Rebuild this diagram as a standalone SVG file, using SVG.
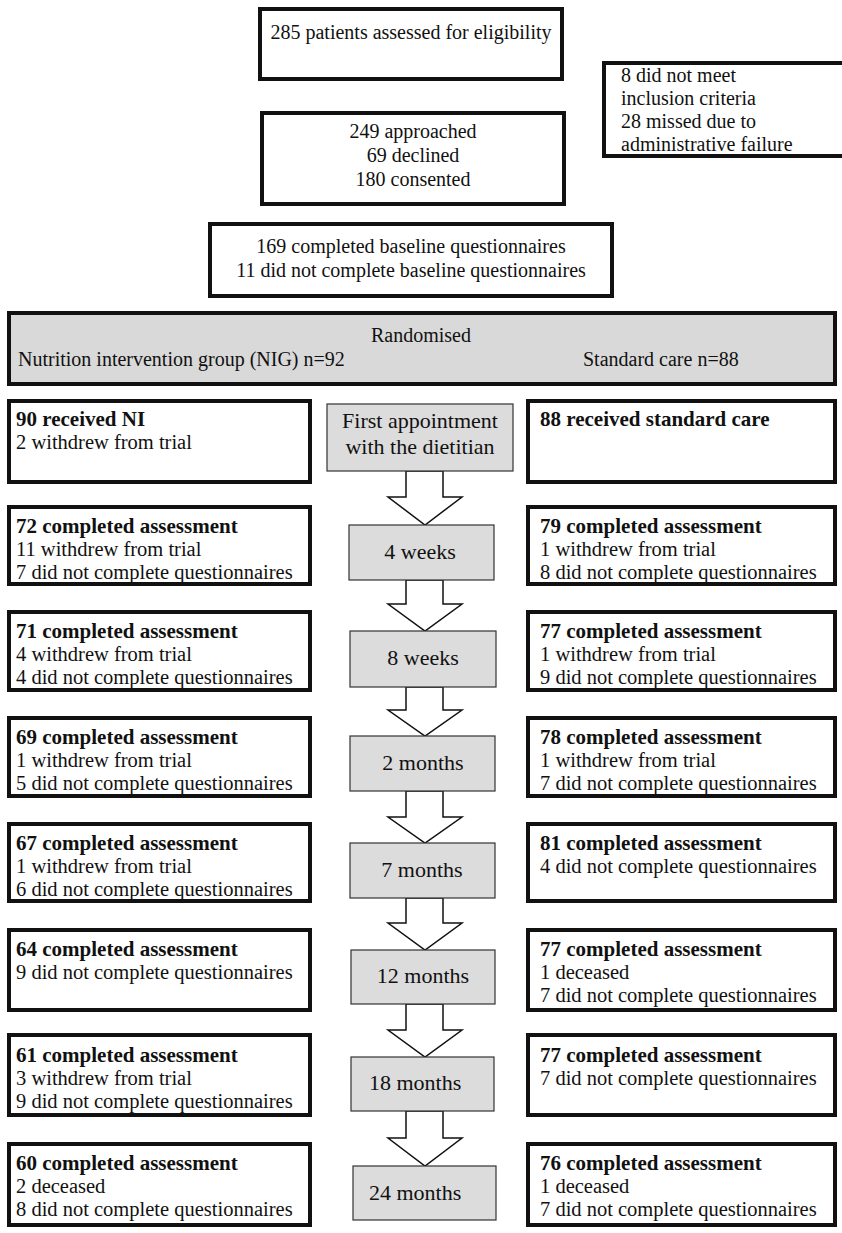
<svg xmlns="http://www.w3.org/2000/svg" width="842" height="1233" viewBox="0 0 842 1233">
<style>
text{font-family:"Liberation Serif","Times New Roman",serif;font-size:20px;fill:#111}
.s{font-size:20.5px}
.b{font-weight:bold;font-size:21px}
.m{font-size:22px}
.c{text-anchor:middle}
.box{fill:#fff;stroke:#111;stroke-width:4}
.gbox{fill:#d9d9d9;stroke:#111;stroke-width:4}
.tbox{fill:#dcdcdc;stroke:#333;stroke-width:1.2}
.arr{fill:#fff;stroke:#111;stroke-width:1.5}
</style>
<rect width="842" height="1233" fill="#fff"/>
<g id="n-assessed"><rect class="box" x="260" y="9" width="302" height="70"/><text class="c" x="411" y="39">285 patients assessed for eligibility</text></g>
<g id="n-excluded"><rect class="box" x="604" y="63" width="250" height="93"/><text x="621" y="82">8 did not meet</text><text x="621" y="105">inclusion criteria</text><text x="621" y="128">28 missed due to</text><text x="621" y="151">administrative failure</text></g>
<g id="n-approached"><rect class="box" x="262" y="113" width="302" height="91"/><text class="c" x="413" y="138">249 approached</text><text class="c" x="413" y="162">69 declined</text><text class="c" x="413" y="186">180 consented</text></g>
<g id="n-baseline"><rect class="box" x="210" y="224" width="402" height="72"/><text class="c" x="411" y="253">169 completed baseline questionnaires</text><text class="c" x="411" y="277">11 did not complete baseline questionnaires</text></g>
<g id="n-random"><rect class="gbox" x="9" y="313" width="826" height="71"/><text class="c" x="421" y="342">Randomised</text><text x="18" y="366">Nutrition intervention group (NIG) n=92</text><text x="583" y="366">Standard care n=88</text></g>
<g id="connectors">
<polygon class="arr" points="406,471 443,471 443,497 462,497 425,525 388,497 406,497"/>
<polygon class="arr" points="406,580 443,580 443,604 462,604 425,631 388,604 406,604"/>
<polygon class="arr" points="406,687 443,687 443,710 462,710 425,736 388,710 406,710"/>
<polygon class="arr" points="406,791 443,791 443,817 462,817 425,843 388,817 406,817"/>
<polygon class="arr" points="406,898 443,898 443,923 462,923 425,950 388,923 406,923"/>
<polygon class="arr" points="406,1004 443,1004 443,1030 462,1030 425,1057 388,1030 406,1030"/>
<polygon class="arr" points="406,1111 443,1111 443,1138 462,1138 425,1166 388,1138 406,1138"/>
</g>
<g id="t0"><rect class="tbox" x="327" y="404" width="186" height="67"/><text class="c m" x="420" y="428">First appointment</text><text class="c m" x="420" y="454">with the dietitian</text></g>
<g id="t1"><rect class="tbox" x="349" y="525" width="145" height="55"/><text class="c m" x="420" y="559">4 weeks</text></g>
<g id="t2"><rect class="tbox" x="350" y="631" width="146" height="56"/><text class="c m" x="423" y="665">8 weeks</text></g>
<g id="t3"><rect class="tbox" x="350" y="736" width="145" height="55"/><text class="c m" x="423" y="770">2 months</text></g>
<g id="t4"><rect class="tbox" x="350" y="843" width="145" height="55"/><text class="c m" x="422" y="877">7 months</text></g>
<g id="t5"><rect class="tbox" x="351" y="950" width="144" height="54"/><text class="c m" x="423" y="983">12 months</text></g>
<g id="t6"><rect class="tbox" x="351" y="1057" width="143" height="54"/><text class="m" x="369" y="1090">18 months</text></g>
<g id="t7"><rect class="tbox" x="353" y="1166" width="143" height="54"/><text class="m" x="369" y="1200">24 months</text></g>
<g id="l0"><rect class="box" x="9" y="401" width="301" height="81"/><text class="b" x="16" y="426">90 received NI</text><text class="s" x="16" y="449">2 withdrew from trial</text></g>
<g id="r0"><rect class="box" x="528" y="401" width="307" height="81"/><text class="b" x="540" y="426">88 received standard care</text></g>
<g id="l1"><rect class="box" x="9" y="507" width="301" height="77"/><text class="b" x="16" y="533">72 completed assessment</text><text class="s" x="16" y="556">11 withdrew from trial</text><text class="s" x="16" y="579">7 did not complete questionnaires</text></g>
<g id="r1"><rect class="box" x="528" y="507" width="307" height="77"/><text class="b" x="540" y="533">79 completed assessment</text><text class="s" x="540" y="556">1 withdrew from trial</text><text class="s" x="540" y="579">8 did not complete questionnaires</text></g>
<g id="l2"><rect class="box" x="9" y="612" width="301" height="78"/><text class="b" x="16" y="638">71 completed assessment</text><text class="s" x="16" y="661">4 withdrew from trial</text><text class="s" x="16" y="684">4 did not complete questionnaires</text></g>
<g id="r2"><rect class="box" x="528" y="612" width="307" height="78"/><text class="b" x="540" y="638">77 completed assessment</text><text class="s" x="540" y="661">1 withdrew from trial</text><text class="s" x="540" y="684">9 did not complete questionnaires</text></g>
<g id="l3"><rect class="box" x="9" y="718" width="301" height="78"/><text class="b" x="16" y="744">69 completed assessment</text><text class="s" x="16" y="767">1 withdrew from trial</text><text class="s" x="16" y="790">5 did not complete questionnaires</text></g>
<g id="r3"><rect class="box" x="528" y="718" width="307" height="78"/><text class="b" x="540" y="744">78 completed assessment</text><text class="s" x="540" y="767">1 withdrew from trial</text><text class="s" x="540" y="790">7 did not complete questionnaires</text></g>
<g id="l4"><rect class="box" x="9" y="824" width="301" height="77"/><text class="b" x="16" y="850">67 completed assessment</text><text class="s" x="16" y="873">1 withdrew from trial</text><text class="s" x="16" y="896">6 did not complete questionnaires</text></g>
<g id="r4"><rect class="box" x="528" y="824" width="307" height="77"/><text class="b" x="540" y="850">81 completed assessment</text><text class="s" x="540" y="873">4 did not complete questionnaires</text></g>
<g id="l5"><rect class="box" x="9" y="930" width="301" height="80"/><text class="b" x="16" y="956">64 completed assessment</text><text class="s" x="16" y="979">9 did not complete questionnaires</text></g>
<g id="r5"><rect class="box" x="528" y="930" width="307" height="80"/><text class="b" x="540" y="956">77 completed assessment</text><text class="s" x="540" y="979">1 deceased</text><text class="s" x="540" y="1002">7 did not complete questionnaires</text></g>
<g id="l6"><rect class="box" x="9" y="1035" width="301" height="80"/><text class="b" x="16" y="1062">61 completed assessment</text><text class="s" x="16" y="1085">3 withdrew from trial</text><text class="s" x="16" y="1108">9 did not complete questionnaires</text></g>
<g id="r6"><rect class="box" x="528" y="1035" width="307" height="80"/><text class="b" x="540" y="1062">77 completed assessment</text><text class="s" x="540" y="1085">7 did not complete questionnaires</text></g>
<g id="l7"><rect class="box" x="9" y="1144" width="301" height="81"/><text class="b" x="16" y="1170">60 completed assessment</text><text class="s" x="16" y="1193">2 deceased</text><text class="s" x="16" y="1216">8 did not complete questionnaires</text></g>
<g id="r7"><rect class="box" x="528" y="1144" width="307" height="81"/><text class="b" x="540" y="1170">76 completed assessment</text><text class="s" x="540" y="1193">1 deceased</text><text class="s" x="540" y="1216">7 did not complete questionnaires</text></g>
</svg>
